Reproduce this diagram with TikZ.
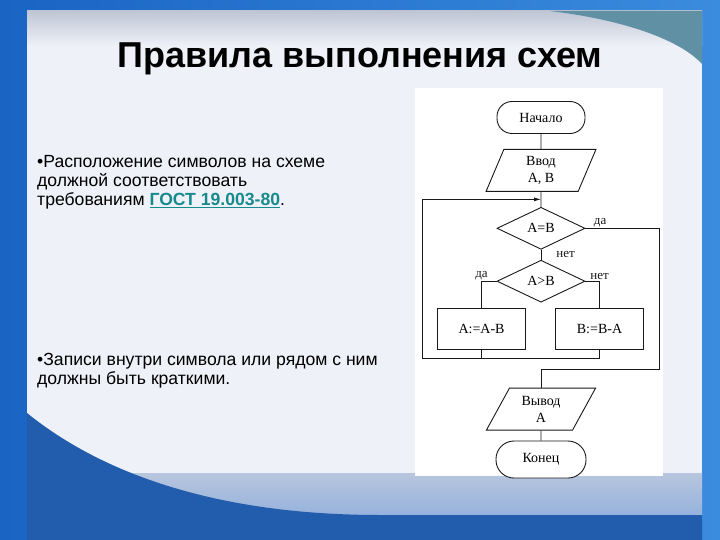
\documentclass[tikz,border=0pt]{standalone}
\usepackage{fontspec}
\setmainfont{Liberation Sans}
\newfontfamily\schemefont{Liberation Serif}
\usetikzlibrary{shapes.geometric, arrows.meta, positioning, calc}
\definecolor{slideblue}{RGB}{26,100,196}
\definecolor{slidelight}{RGB}{58,140,222}
\definecolor{panelbg}{RGB}{239,241,248}
\definecolor{bandgrey}{RGB}{190,197,212}
\definecolor{bandtop}{RGB}{184,198,222}
\definecolor{bandbot}{RGB}{150,178,220}
\definecolor{swoosh}{RGB}{34,92,172}
\definecolor{cornerteal}{RGB}{96,144,164}
\definecolor{gostteal}{RGB}{22,138,140}
\definecolor{mydark}{RGB}{25,25,25}
\tikzset{
  terminal/.style={rectangle, draw=mydark, fill=white, rounded corners=15pt,
    minimum width=88pt, minimum height=32pt,
    font=\schemefont\fontsize{14}{15}\selectfont, line width=0.9pt},
  io/.style={trapezium, trapezium stretches=true, trapezium left angle=76,
    trapezium right angle=104, draw=mydark, fill=white, align=center,
    minimum width=110pt, minimum height=42pt, inner sep=1pt,
    font=\schemefont\fontsize{14}{17}\selectfont, line width=0.9pt},
  decision/.style={diamond, draw=mydark, fill=white, inner sep=0pt,
    minimum width=88pt, minimum height=42pt,
    font=\schemefont\fontsize{14}{15}\selectfont, line width=0.9pt},
  process/.style={rectangle, draw=mydark, fill=white,
    minimum width=88pt, minimum height=41pt,
    font=\schemefont\fontsize{14}{15}\selectfont, line width=0.9pt},
  lbl/.style={font=\schemefont\fontsize{13}{14}\selectfont, inner sep=1pt},
  line/.style={line width=0.8pt, color=mydark},
  arrow/.style={-{Latex[length=7pt,width=4pt]}, line width=0.8pt, color=mydark},
  bullet/.style={anchor=north west, align=left, inner sep=0pt,
    font=\fontsize{17.6}{19}\selectfont}
}

\begin{document}
\begin{tikzpicture}[x=1pt, y=-1pt]
  \useasboundingbox (0,0) rectangle (720,540);
  % slide background
  \shade[left color=slideblue, right color=slidelight] (0,0) rectangle (720,540);
  \fill[panelbg] (27,11) rectangle (702,540);
  \shade[top color=bandgrey, bottom color=panelbg] (27,11) rectangle (702,46);
  \fill[cornerteal] (550,11) .. controls (625,20) and (680,40) .. (702,64) -- (702,11) -- cycle;
  \shade[top color=bandtop, bottom color=bandbot] (27,473) rectangle (702,515);
  \fill[swoosh] (27,413) .. controls (110,480) and (230,515) .. (380,515)
    -- (702,515) -- (702,540) -- (27,540) -- cycle;

  \node[anchor=base, font=\bfseries\fontsize{36}{40}\selectfont] (title) at (360,68) {Правила выполнения схем};

  \node[bullet] (rule1) at (37,155) {\textbullet Расположение символов на схеме\\
    должной соответствовать\\
    требованиям \textcolor{gostteal}{\textbf{\underline{ГОСТ 19.003-80}}}.};
  \node[bullet] (rule2) at (37,353) {\textbullet Записи внутри символа или рядом с ним\\
    должны быть краткими.};

  % flowchart
  \fill[white] (415,88) rectangle (663,476);
  \node[terminal] (start) at (541,117.5) {Начало};
  \node[io, below=15pt of start] (inp) {Ввод\\A, B};
  \node[decision, below=15pt of inp] (eq) {A=B};
  \node[decision, below=10pt of eq] (gt) {A>B};
  \node[process, below=5pt of gt, xshift=-59.5pt] (suba) {A:=A-B};
  \node[process, below=5pt of gt, xshift=58.5pt] (subb) {B:=B-A};
  \node[io, below=85pt of gt, trapezium left angle=62, trapezium right angle=118] (out) {Вывод\\A};
  \node[terminal, below=10pt of out, minimum width=90pt, minimum height=37pt, rounded corners=18pt] (stop) {Конец};

  \coordinate (rx) at (659,369);
  \coordinate (lx) at (422,358);
  \coordinate (loop) at ($(inp.south -| eq.north)!0.5!(eq.north)$);

  \draw[line] (start) -- (inp);
  \draw[line] (inp) -- (eq);
  \draw[line] (eq) -- node[lbl, right, xshift=14pt] {нет} (gt);
  \draw[line] (eq.east) -| node[lbl, pos=0.1, above] {да} (rx) -| (out);
  \draw[line] (gt.west) -| node[lbl, pos=0.5, above] {да} (suba);
  \draw[line] (gt.east) -| node[lbl, pos=0.5, above] {нет} (subb);
  \draw[arrow] (suba) |- (lx) |- (loop);
  \draw[line] (subb) |- (lx);
  \draw[line] (out) -- (stop);
\end{tikzpicture}
\end{document}
